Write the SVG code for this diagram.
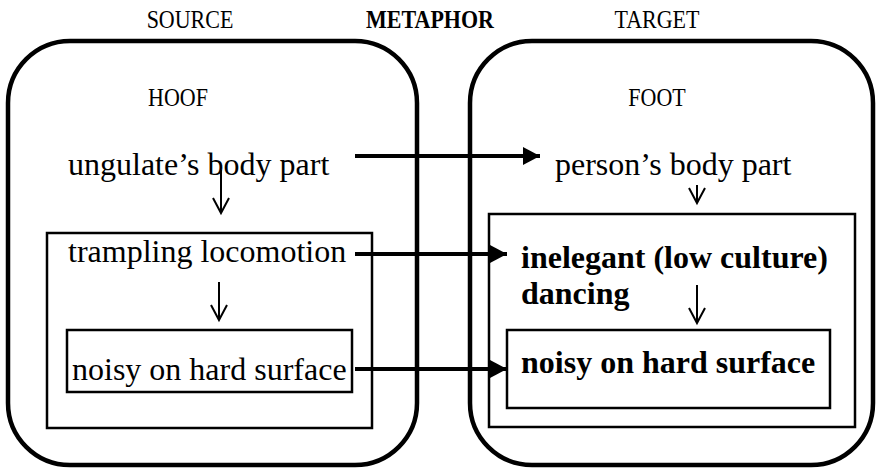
<svg xmlns="http://www.w3.org/2000/svg" width="877" height="469" viewBox="0 0 877 469">
  <style>
    .domain { fill: none; stroke: #000; stroke-width: 4.5; }
    .frame { fill: none; stroke: #000; stroke-width: 2.5; }
    .label { font-family: "Liberation Serif", "Times New Roman", serif; fill: #000; }
    .head { font-size: 22px; }
    .body { font-size: 32px; }
    .bold { font-weight: bold; }
    .map { stroke: #000; stroke-width: 4; fill: none; }
    .step { stroke: #000; stroke-width: 2; fill: none; }
  </style>
  <defs>
    <marker id="solidHead" markerUnits="userSpaceOnUse" markerWidth="18" markerHeight="20" refX="17" refY="9" orient="auto">
      <path d="M0,0 L17,9 L0,18 Z" fill="#000"/>
    </marker>
  </defs>
  <rect width="877" height="469" fill="#fff"/>

  <!-- column headings (set slightly tall) -->
  <g id="headings">
    <text class="label head" transform="translate(190,28) scale(1,1.15)" text-anchor="middle">SOURCE</text>
    <text class="label head bold" transform="translate(430,28) scale(1,1.15)" text-anchor="middle">METAPHOR</text>
    <text class="label head" transform="translate(657,28) scale(1,1.15)" text-anchor="middle">TARGET</text>
  </g>

  <!-- source domain -->
  <g id="source-domain">
    <rect class="domain" x="8" y="41" width="409" height="424" rx="62" ry="62"/>
    <text class="label head" transform="translate(178,106) scale(1,1.15)" text-anchor="middle">HOOF</text>
  </g>
  <g id="source-body-part">
    <text class="label body" x="68" y="175">ungulate’s body part</text>
  </g>
  <g id="source-locomotion">
    <rect class="frame" x="47" y="233" width="325" height="195"/>
    <text class="label body" x="68" y="262">trampling locomotion</text>
  </g>
  <g id="source-noise">
    <rect class="frame" x="67" y="330" width="285" height="62"/>
    <text class="label body" x="72" y="380">noisy on hard surface</text>
  </g>

  <!-- target domain -->
  <g id="target-domain">
    <rect class="domain" x="470" y="41" width="403" height="424" rx="62" ry="62"/>
    <text class="label head" transform="translate(657,106) scale(1,1.15)" text-anchor="middle">FOOT</text>
  </g>
  <g id="target-body-part">
    <text class="label body" x="555" y="175">person’s body part</text>
  </g>
  <g id="target-dancing">
    <rect class="frame" x="489" y="214" width="366" height="213"/>
    <text class="label body bold" x="521" y="268">inelegant (low culture)</text>
    <text class="label body bold" x="521" y="304">dancing</text>
  </g>
  <g id="target-noise">
    <rect class="frame" x="507" y="330" width="323" height="78"/>
    <text class="label body bold" x="521" y="373">noisy on hard surface</text>
  </g>

  <!-- connectors -->
  <g id="connectors">
    <line class="map" x1="355" y1="156" x2="540" y2="156" marker-end="url(#solidHead)"/>
    <line class="map" x1="355" y1="254" x2="507" y2="254" marker-end="url(#solidHead)"/>
    <line class="map" x1="355" y1="369" x2="507" y2="369" marker-end="url(#solidHead)"/>

    <path class="step" d="M221,170 V213 M213,198 L221,213 L229,198"/>
    <path class="step" d="M219,282 V320 M211,305 L219,320 L227,305"/>
    <path class="step" d="M697,185 V203 M689,188 L697,203 L705,188"/>
    <path class="step" d="M697,285 V323 M689,308 L697,323 L705,308"/>
  </g>
</svg>
